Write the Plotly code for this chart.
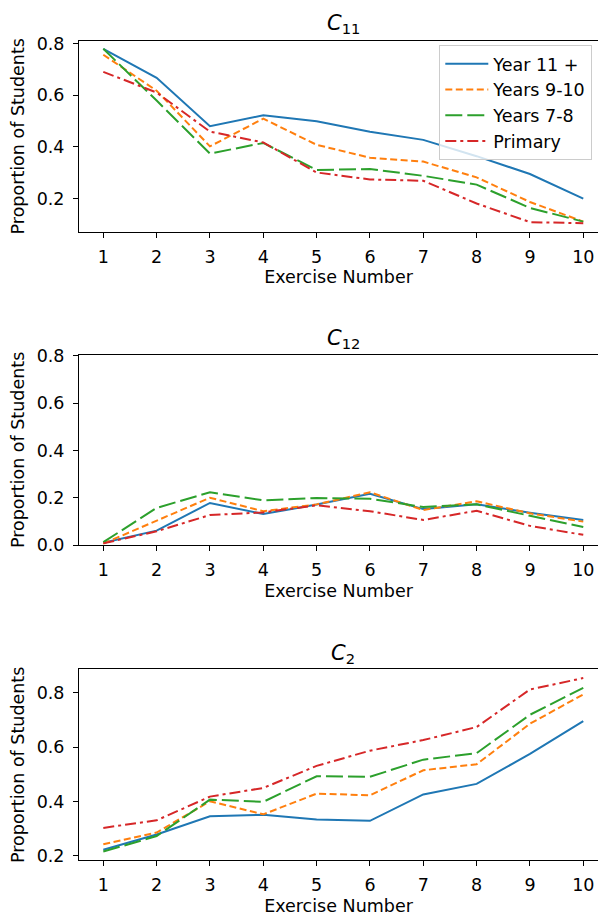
import plotly.graph_objects as go

exercises = [1, 2, 3, 4, 5, 6, 7, 8, 9, 10]
series_names = ["Year 11 +", "Years 9-10", "Years 7-8", "Primary"]

# Panel C11
c11_year11 = [0.779, 0.667, 0.480, 0.522, 0.499, 0.458, 0.427, 0.364, 0.295, 0.200]
c11_year9_10 = [0.756, 0.617, 0.402, 0.509, 0.408, 0.358, 0.343, 0.282, 0.187, 0.111]
c11_year7_8 = [0.779, 0.579, 0.374, 0.415, 0.311, 0.314, 0.288, 0.254, 0.164, 0.111]
c11_primary = [0.690, 0.610, 0.459, 0.417, 0.301, 0.274, 0.269, 0.181, 0.109, 0.105]

# Panel C12
c12_year11 = [0.010, 0.061, 0.178, 0.131, 0.171, 0.217, 0.152, 0.172, 0.137, 0.106]
c12_year9_10 = [0.006, 0.103, 0.200, 0.143, 0.172, 0.223, 0.148, 0.185, 0.134, 0.099]
c12_year7_8 = [0.012, 0.157, 0.223, 0.189, 0.199, 0.196, 0.161, 0.172, 0.124, 0.076]
c12_primary = [0.007, 0.058, 0.127, 0.138, 0.168, 0.143, 0.106, 0.145, 0.081, 0.043]

# Panel C2
c2_year11 = [0.223, 0.279, 0.346, 0.351, 0.334, 0.329, 0.426, 0.465, 0.575, 0.696]
c2_year9_10 = [0.243, 0.286, 0.401, 0.353, 0.429, 0.423, 0.515, 0.537, 0.686, 0.794]
c2_year7_8 = [0.216, 0.273, 0.407, 0.399, 0.493, 0.491, 0.554, 0.578, 0.719, 0.818]
c2_primary = [0.303, 0.331, 0.418, 0.450, 0.531, 0.587, 0.626, 0.674, 0.812, 0.854]

panel_titles = ["<i>C</i><sub>11</sub>", "<i>C</i><sub>12</sub>", "<i>C</i><sub>2</sub>"]
panels = [
    [c11_year11, c11_year9_10, c11_year7_8, c11_primary],
    [c12_year11, c12_year9_10, c12_year7_8, c12_primary],
    [c2_year11, c2_year9_10, c2_year7_8, c2_primary],
]

colors = ["#1f77b4", "#ff7f0e", "#2ca02c", "#d62728"]
dashes = ["solid", "7px,3.5px", "17px,5px", "11px,4px,3px,4px"]

FONT = "DejaVu Sans"
FS = 17.5
# the page body has an 8px margin, so the figure is made to fit inside it
W, H = 590, 908

# figure-pixel geometry of the three axes boxes (top, bottom)
boxes = [(24.3, 219.3), (345.0, 539.3), (666.3, 861.3)]
yranges = [[0.072, 0.81], [0.0, 0.805], [0.184, 0.886]]
title_y = [7.5, 329, 651]
x_left = 71
x_one = 95.3
px_per_unit = 53.33
xrange_ = [1 - (x_one - x_left) / px_per_unit, 1 + (W - x_one) / px_per_unit]

fig = go.Figure()
for p, data in enumerate(panels):
    suffix = "" if p == 0 else str(p + 1)
    for s, vals in enumerate(data):
        fig.add_trace(go.Scatter(
            x=exercises, y=vals, mode="lines", name=series_names[s],
            line=dict(color=colors[s], width=2, dash=dashes[s]),
            xaxis="x" + suffix, yaxis="y" + suffix,
            showlegend=(p == 0), legendgroup=series_names[s],
        ))

layout = dict(
    width=W, height=H,
    margin=dict(l=0, r=0, t=0, b=0),
    paper_bgcolor="white", plot_bgcolor="white",
    font=dict(family=FONT, size=FS, color="black"),
    showlegend=True,
    legend=dict(
        x=431.3 / W, y=1 - 28.5 / H, xanchor="left", yanchor="top",
        xref="paper", yref="paper",
        bgcolor="rgba(255,255,255,0.8)", bordercolor="#cccccc", borderwidth=1,
        font=dict(family=FONT, size=FS, color="black"),
        tracegroupgap=0, itemwidth=43,
    ),
    annotations=[],
)

for p in range(3):
    suffix = "" if p == 0 else str(p + 1)
    top, bot = boxes[p]
    ax_common = dict(
        showgrid=False, zeroline=False, showline=True, linecolor="black",
        linewidth=1, ticks="outside", ticklen=5, tickwidth=1, tickcolor="black",
        tickfont=dict(family=FONT, size=FS, color="black"),
    )
    layout["xaxis" + suffix] = dict(
        ax_common, domain=[x_left / W, 1.0], range=xrange_,
        tickmode="array", tickvals=exercises, ticktext=[str(e) for e in exercises],
        mirror=True, anchor="y" + suffix, ticklabelstandoff=4,
        title=dict(text="Exercise Number", font=dict(family=FONT, size=FS), standoff=5),
    )
    layout["yaxis" + suffix] = dict(
        ax_common, domain=[1 - bot / H, 1 - top / H], range=yranges[p],
        dtick=0.2, tick0=0, tickformat=".1f", anchor="x" + suffix,
        ticklabelstandoff=5,
        title=dict(text="Proportion of Students", font=dict(family=FONT, size=FS), standoff=7),
    )
    layout["annotations"].append(dict(
        text=panel_titles[p], xref="paper", yref="paper",
        x=(x_left + 599) / 2 / W, y=1 - title_y[p] / H,
        xanchor="center", yanchor="middle", showarrow=False,
        font=dict(family=FONT, size=21, color="black"),
    ))

fig.update_layout(**layout)
fig.write_html("out.html")
